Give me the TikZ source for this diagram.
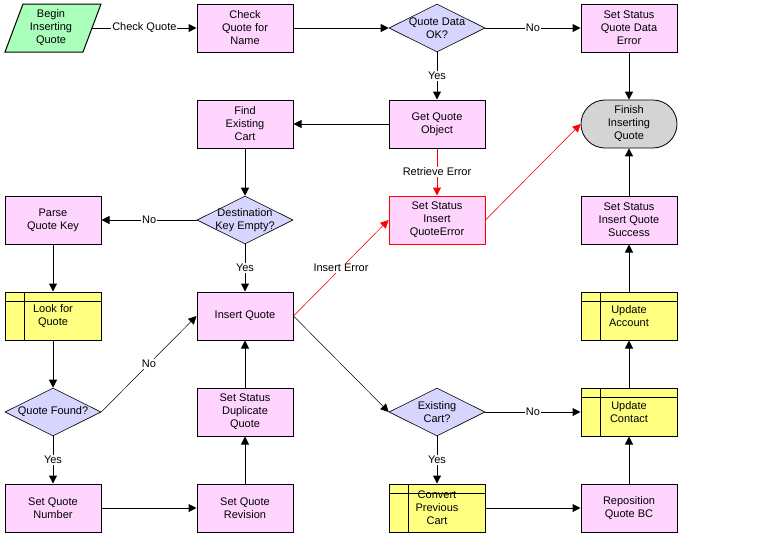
\documentclass[tikz,border=0pt]{standalone}
\usepackage{fontspec}
\setmainfont{Liberation Sans}
\usetikzlibrary{shapes.geometric,arrows.meta}
\definecolor{pinkf}{RGB}{255,213,255}
\definecolor{greenf}{RGB}{170,255,187}
\definecolor{lavf}{RGB}{213,213,255}
\definecolor{yelf}{RGB}{255,255,128}
\definecolor{grayf}{RGB}{212,212,212}
\definecolor{redl}{RGB}{255,0,0}
\tikzset{
  txt/.style={font=\fontsize{11}{13}\selectfont, align=center},
  box/.style={txt, draw=black, line width=1pt, fill=pinkf, minimum width=96pt, minimum height=48pt, inner sep=0pt},
  errbox/.style={box, draw=redl},
  subbox/.style={box, fill=yelf, path picture={
      \draw[line width=1pt] ([yshift=-9pt]path picture bounding box.north west) -- ([yshift=-9pt]path picture bounding box.north east);
      \draw[line width=1pt] ([xshift=19pt]path picture bounding box.north west) -- ([xshift=19pt]path picture bounding box.south west);}},
  decision/.style={shape=diamond, draw=black, line width=0.6pt, fill=lavf, minimum width=96pt, minimum height=48pt, inner sep=0pt, aspect=2},
  dtext/.style={txt},
  endbox/.style={box, fill=grayf, rounded corners=24pt, line width=0.8pt},
  flow/.style={line width=1pt, -{Triangle[length=8pt,width=8pt]}},
  thin flow/.style={line width=0.5pt, -{Triangle[length=8pt,width=8pt]}},
  lbl/.style={txt, fill=white, inner sep=1pt},
}
\begin{document}
\begin{tikzpicture}[x=1pt,y=-1pt]
\useasboundingbox (0,0) rectangle (775,547);
% start parallelogram
\fill[greenf] (23,4) -- (101,4) -- (83,52) -- (5,52) -- cycle;
\draw[line width=1pt] (23,4) -- (101,4) -- (83,52) -- (5,52) -- cycle;
\node[txt, minimum width=82pt, minimum height=48pt, inner sep=0pt] (begin) at (51,28) {Begin\\Inserting\\Quote};
% row 1
\node[box] (chk) at (245,28) {Check\\Quote for\\Name};
\node[decision, label={[dtext]center:Quote Data\\OK?}] (qok) at (437,28) {};
\node[box] (sqde) at (629,28) {Set Status\\Quote Data\\Error};
% row 2
\node[box] (fec) at (245,124) {Find\\Existing\\Cart};
\node[box] (gqo) at (437,124) {Get Quote\\Object};
\node[endbox] (fin) at (629,124) {Finish\\Inserting\\Quote};
% row 3
\node[box] (pqk) at (53,220) {Parse\\Quote Key};
\node[decision, label={[dtext]center:Destination\\Key Empty?}] (dke) at (245,220) {};
\node[errbox] (sie) at (437,220) {Set Status\\Insert\\QuoteError};
\node[box] (sqs) at (629,220) {Set Status\\Insert Quote\\Success};
% row 4
\node[subbox] (lfq) at (53,316) {Look for\\Quote};
\node[box] (iq) at (245,316) {Insert Quote};
\node[subbox] (ua) at (629,316) {Update\\Account};
% row 5
\node[decision, label={[dtext]center:Quote Found?}] (qf) at (53,412) {};
\node[box] (ssd) at (245,412) {Set Status\\Duplicate\\Quote};
\node[decision, label={[dtext]center:Existing\\Cart?}] (ec) at (437,412) {};
\node[subbox] (uc) at (629,412) {Update\\Contact};
% row 6
\node[box] (sqn) at (53,508) {Set Quote\\Number};
\node[box] (sqr) at (245,508) {Set Quote\\Revision};
\node[subbox] (cpc) at (437,508) {Convert\\Previous\\Cart};
\node[box] (rqb) at (629,508) {Reposition\\Quote BC};
% connectors
\draw[flow] (begin.east) -- node[lbl] {Check Quote} (chk.west);
\draw[flow] (chk.east) -- (qok.west);
\draw[flow] (qok.east) -- node[lbl] {No} (sqde.west);
\draw[flow] (qok.south) -- node[lbl] {Yes} (gqo.north);
\draw[flow] (sqde.south) -- (fin.north);
\draw[flow] (gqo.west) -- (fec.east);
\draw[flow, draw=redl, fill=redl] (gqo.south) -- node[lbl, text=black] {Retrieve Error} (sie.north);
\draw[flow] (fec.south) -- (dke.north);
\draw[flow] (dke.west) -- node[lbl] {No} (pqk.east);
\draw[flow] (dke.south) -- node[lbl] {Yes} (iq.north);
\draw[flow] (pqk.south) -- (lfq.north);
\draw[flow] (lfq.south) -- (qf.north);
\draw[thin flow] (qf.east) -- node[lbl] {No} (iq.west);
\draw[flow] (qf.south) -- node[lbl] {Yes} (sqn.north);
\draw[flow] (sqn.east) -- (sqr.west);
\draw[flow] (sqr.north) -- (ssd.south);
\draw[flow] (ssd.north) -- (iq.south);
\draw[thin flow, draw=redl, fill=redl] (iq.east) -- node[lbl, text=black] {Insert Error} (sie.west);
\draw[thin flow] (iq.east) -- (ec.west);
\draw[thin flow, draw=redl, fill=redl] (sie.east) -- (fin.west);
\draw[flow] (ec.east) -- node[lbl] {No} (uc.west);
\draw[flow] (ec.south) -- node[lbl] {Yes} (cpc.north);
\draw[flow] (cpc.east) -- (rqb.west);
\draw[flow] (rqb.north) -- (uc.south);
\draw[flow] (uc.north) -- (ua.south);
\draw[flow] (ua.north) -- (sqs.south);
\draw[flow] (sqs.north) -- (fin.south);
\end{tikzpicture}
\end{document}
